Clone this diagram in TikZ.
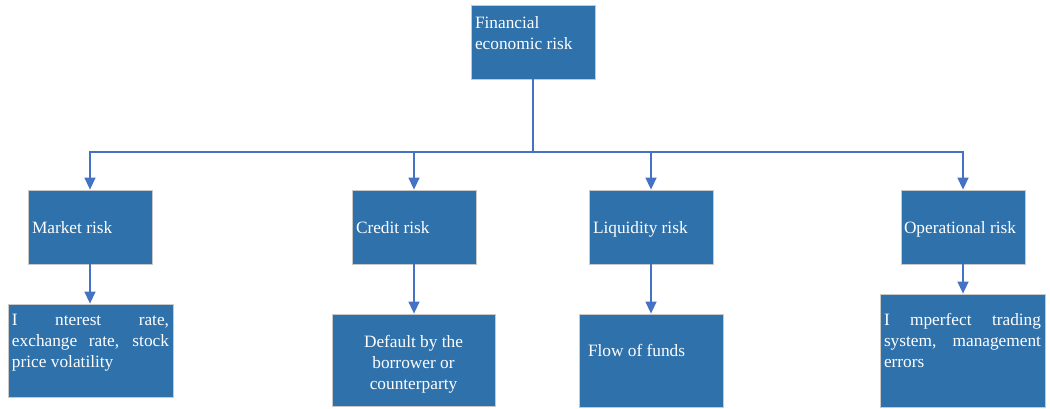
\documentclass[tikz,border=0pt]{standalone}
\usepackage{fontspec}
\setmainfont{Liberation Serif}
\usetikzlibrary{arrows.meta}
\definecolor{boxfill}{HTML}{2E71AB}
\definecolor{boxline}{HTML}{C9C9C9}
\definecolor{linkcol}{HTML}{4472C4}
% #1 height, #2 width, #3 first-baseline offset, #4 alignment, #5 text
\newcommand{\bxt}[5]{\parbox[c][#1][t]{#2}{#4\rule{0pt}{#3}#5}}
\newcommand{\jline}[1]{\makebox[\linewidth][s]{#1}}
\begin{document}
\begin{tikzpicture}[x=1pt,y=-1pt,
  box/.style={draw=boxline, fill=boxfill, line width=0.8pt, inner sep=0pt,
    text=white, font=\fontsize{17.3pt}{21pt}\selectfont},
  link/.style={draw=linkcol, line width=1.4pt},
  arr/.style={-{Triangle[width=11pt,length=12pt]}}]
\useasboundingbox (0,0) rectangle (1050,408);

\node[box, minimum width=124pt, minimum height=74pt] (fin) at (533,42)
  {\bxt{74pt}{116pt}{23pt}{\raggedright}{Financial\\economic risk}};

\node[box, minimum width=124pt, minimum height=74pt] (mkt) at (90,227)
  {\bxt{74pt}{116pt}{43pt}{\raggedright}{Market risk}};
\node[box, minimum width=124pt, minimum height=74pt] (cre) at (414,227)
  {\bxt{74pt}{116pt}{43pt}{\raggedright}{Credit risk}};
\node[box, minimum width=124pt, minimum height=74pt] (liq) at (651,227)
  {\bxt{74pt}{116pt}{43pt}{\raggedright}{Liquidity risk}};
\node[box, minimum width=124pt, minimum height=74pt] (ope) at (963,227)
  {\bxt{74pt}{118pt}{43pt}{\raggedright}{Operational risk}};

\node[box, minimum width=165pt, minimum height=93pt] (mkts) at (90.5,350.5)
  {\bxt{93pt}{157pt}{21pt}{\raggedright}{\jline{I nterest rate,}\\\jline{exchange rate, stock}\\price volatility}};
\node[box, minimum width=163pt, minimum height=92pt] (cres) at (413.5,360)
  {\bxt{92pt}{155pt}{33pt}{\centering}{Default by the\\borrower or\\counterparty}};
\node[box, minimum width=144pt, minimum height=93pt] (liqs) at (651,360.5)
  {\bxt{93pt}{126pt}{42pt}{\raggedright}{Flow of funds}};
\node[box, minimum width=165pt, minimum height=113pt] (opes) at (962.5,350.5)
  {\bxt{113pt}{157pt}{31pt}{\raggedright}{\jline{I mperfect trading}\\\jline{system, management}\\errors}};

\coordinate (bus) at (533,152);
\draw[link] (fin.south) -- (bus);
\draw[link,arr] (bus) -| (mkt.north);
\draw[link,arr] (bus) -| (cre.north);
\draw[link,arr] (bus) -| (liq.north);
\draw[link,arr] (bus) -| (ope.north);

\draw[link,arr] (mkt.south) -- (mkt.south |- mkts.north);
\draw[link,arr] (cre.south) -- (cre.south |- cres.north);
\draw[link,arr] (liq.south) -- (liq.south |- liqs.north);
\draw[link,arr] (ope.south) -- (ope.south |- opes.north);
\end{tikzpicture}
\end{document}
